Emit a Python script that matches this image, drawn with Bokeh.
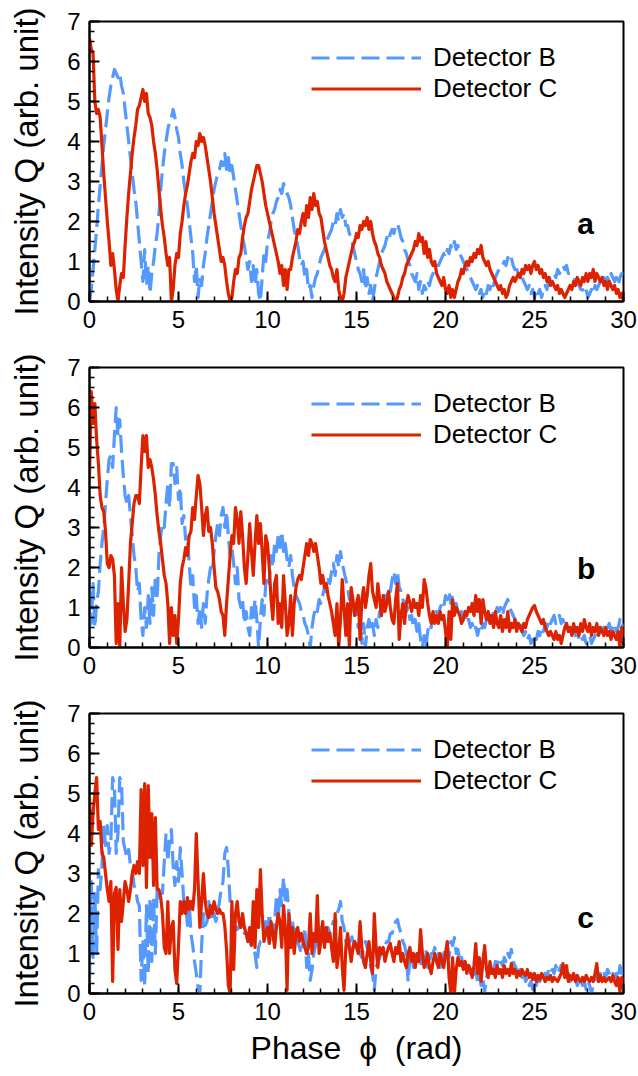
from bokeh.plotting import figure
from bokeh.layouts import column
from bokeh.models import Range1d, FixedTicker, Legend, LegendItem, Label
from bokeh.embed import file_html
from bokeh.resources import INLINE

FONT = "Liberation Sans"
BLUE = "#5599ff"
RED = "#dd2200"

# sampling positions of the phase axis (rad), 0.1 apart
phase = [round(0.1 * i, 1) for i in range(301)]

# ---------------- panel a ----------------
a_det_b = [
    0.0, 0.3, 0.8, 1.3, 1.8, 2.4, 2.9, 3.4, 3.9, 4.3,
    4.7, 5.1, 5.4, 5.6, 5.8, 5.7, 5.6, 5.7, 5.4, 5.2,
    4.8, 4.4, 4.0, 3.6, 3.2, 2.8, 2.5, 2.0, 1.5, 1.0,
    0.5, 1.3, 0.4, 0.9, 0.2, 0.7, 1.0, 1.4, 1.7, 2.2,
    2.8, 3.3, 3.7, 4.0, 4.3, 4.5, 4.6, 4.8, 4.6, 4.3,
    4.1, 3.7, 3.4, 3.0, 2.7, 2.4, 2.0, 1.6, 1.2, 0.5,
    0.9, 0.1, 0.6, 0.4, 0.9, 1.2, 1.6, 1.9, 2.2, 2.5,
    2.8, 3.0, 3.2, 3.3, 3.5, 3.4, 3.7, 3.3, 3.6, 3.2,
    3.4, 3.1, 2.8, 2.5, 2.2, 1.9, 1.6, 1.4, 1.1, 0.8,
    1.0, 0.5, 0.9, 0.4, 0.8, 0.2, 0.0, 0.6, 1.2, 1.0,
    1.5, 1.7, 2.0, 2.2, 2.3, 2.5, 2.6, 2.8, 2.7, 2.95,
    2.8, 2.7, 2.6, 2.4, 2.1, 1.8, 1.6, 1.4, 1.1, 0.9,
    1.0, 0.6, 0.8, 0.3, 0.4, 0.1, 0.4, 0.6, 0.7, 0.9,
    1.1, 1.2, 1.3, 1.5, 1.6, 1.7, 1.8, 2.0, 1.9, 2.2,
    2.0, 2.3, 2.1, 2.2, 1.9, 1.9, 1.7, 1.6, 1.4, 1.2,
    1.0, 0.8, 0.7, 0.5, 0.8, 0.3, 0.6, 0.2, 0.4, 0.0,
    0.3, 0.6, 0.8, 1.0, 1.2, 1.3, 1.4, 1.6, 1.5, 1.7,
    1.8, 1.7, 1.9, 1.95, 1.8, 1.6, 1.5, 1.3, 1.2, 1.0,
    0.9, 0.7, 0.6, 0.5, 0.7, 0.3, 0.5, 0.2, 0.4, 0.3,
    0.5, 0.4, 0.6, 0.7, 0.8, 0.9, 0.9, 1.0, 1.1, 1.2,
    1.1, 1.3, 1.2, 1.4, 1.3, 1.5, 1.3, 1.4, 1.2, 1.1,
    1.0, 0.9, 0.8, 0.7, 0.6, 0.5, 0.4, 0.3, 0.4, 0.2,
    0.3, 0.1, 0.3, 0.2, 0.4, 0.3, 0.5, 0.4, 0.6, 0.7,
    0.8, 0.9, 0.9, 1.0, 0.9, 1.1, 1.0, 1.1, 0.9, 0.8,
    0.8, 0.7, 0.7, 0.6, 0.5, 0.4, 0.3, 0.4, 0.2, 0.3,
    0.1, 0.3, 0.2, 0.3, 0.1, 0.3, 0.4, 0.3, 0.5, 0.6,
    0.6, 0.7, 0.6, 0.8, 0.7, 0.8, 0.9, 0.8, 0.9, 0.7,
    0.7, 0.6, 0.6, 0.5, 0.5, 0.4, 0.3, 0.3, 0.2, 0.3,
    0.1, 0.2, 0.3, 0.2, 0.4, 0.3, 0.4, 0.5, 0.4, 0.6,
    0.5, 0.6, 0.5, 0.7, 0.6, 0.5, 0.6, 0.4, 0.6, 0.7,
    0.7,
]
a_det_c = [
    6.6, 6.3, 6.2, 5.0, 4.7, 4.8, 4.6, 3.9, 3.2, 2.6,
    2.0, 1.5, 0.9, 1.2, 0.8, 0.3, 0.0, 0.4, 0.7, 0.6,
    1.4, 2.1, 2.7, 3.2, 3.7, 4.1, 4.4, 4.8, 4.9, 5.1,
    5.3, 5.0, 5.2, 4.7, 4.6, 4.4, 4.0, 3.7, 3.3, 2.8,
    2.3, 1.9, 1.6, 1.2, 0.9, 1.1, 0.0, 0.3, 0.9, 1.2,
    1.1, 1.7, 2.0, 2.4, 2.7, 2.9, 3.2, 3.5, 3.7, 3.6,
    4.0, 3.9, 4.2, 4.0, 4.1, 3.9, 3.6, 3.3, 3.0, 2.6,
    2.2, 1.9, 1.6, 1.3, 1.0, 1.1, 0.9, 0.5, 0.2, 0.0,
    0.1, 0.5, 0.8, 0.7, 1.1, 1.2, 1.6, 1.9, 2.1, 2.2,
    2.5, 2.8, 3.0, 3.2, 3.4, 3.4, 3.2, 3.0, 2.7, 2.4,
    2.2, 2.0, 1.8, 1.6, 1.4, 1.2, 1.0, 0.7, 0.9, 0.4,
    0.8, 0.3, 0.8, 0.8, 1.1, 1.3, 1.5, 1.8, 1.7, 2.0,
    2.2, 1.9, 2.4, 2.1, 2.6, 2.3, 2.7, 2.4, 2.5, 2.2,
    2.1, 1.8, 1.5, 1.3, 1.1, 0.9, 0.8, 0.6, 0.5, 0.8,
    0.3, 0.1, 0.0, 0.2, 0.6, 0.8, 1.0, 1.2, 1.4, 1.5,
    1.7, 1.6, 1.9, 1.8, 2.0, 1.9, 2.1, 1.8, 2.0, 1.7,
    1.5, 1.4, 1.2, 1.1, 0.9, 0.8, 0.7, 0.5, 0.4, 0.3,
    0.2, 0.1, 0.0, 0.1, 0.3, 0.4, 0.6, 0.7, 0.9, 1.0,
    1.1, 1.2, 1.3, 1.5, 1.4, 1.7, 1.5, 1.6, 1.2, 1.5,
    1.1, 1.3, 1.0, 0.9, 1.0, 0.7, 0.6, 0.5, 0.4, 0.6,
    0.3, 0.2, 0.4, 0.1, 0.3, 0.1, 0.3, 0.5, 0.6, 0.8,
    0.7, 0.9, 1.0, 0.9, 1.1, 1.0, 1.2, 1.1, 1.3, 1.2,
    1.4, 1.1, 1.0, 0.9, 1.0, 0.8, 0.7, 0.6, 0.5, 0.4,
    0.3, 0.4, 0.2, 0.3, 0.1, 0.2, 0.4, 0.5, 0.6, 0.5,
    0.6, 0.7, 0.6, 0.8, 0.7, 0.9, 0.8, 0.9, 0.7, 0.9,
    1.0, 0.8, 0.9, 0.7, 0.8, 0.6, 0.7, 0.5, 0.6, 0.4,
    0.5, 0.4, 0.3, 0.4, 0.2, 0.3, 0.2, 0.1, 0.2, 0.3,
    0.4, 0.3, 0.5, 0.4, 0.6, 0.5, 0.4, 0.6, 0.5, 0.7,
    0.5, 0.7, 0.6, 0.8, 0.5, 0.7, 0.6, 0.5, 0.6, 0.4,
    0.5, 0.3, 0.5, 0.4, 0.3, 0.4, 0.2, 0.3, 0.1, 0.2,
    0.0,
]

# ---------------- panel b ----------------
b_det_b = [
    1.5, 0.6, 1.6, 0.5, 1.1, 1.4, 2.1, 2.6, 3.0, 3.6,
    4.2, 4.7, 4.8, 4.5, 5.3, 6.0, 5.3, 5.7, 4.9, 4.3,
    3.8, 3.6, 3.8, 3.3, 2.8, 2.3, 2.0, 1.4, 1.6, 0.7,
    0.3, 1.0, 0.5, 1.3, 0.6, 1.5, 0.8, 1.8, 1.2, 2.3,
    2.8, 3.1, 3.0, 3.6, 4.1, 3.5, 4.6, 4.6, 4.1, 4.5,
    3.7, 4.0, 3.1, 3.3, 2.7, 2.8, 2.1, 1.5, 1.8, 1.0,
    1.3, 0.6, 1.0, 0.5, 1.1, 0.6, 1.3, 1.7, 2.0, 1.9,
    2.4, 2.8, 3.1, 2.8, 3.3, 3.5, 3.0, 3.4, 2.8, 2.3,
    2.5, 2.1, 1.6, 2.0, 1.2, 1.0, 1.2, 0.6, 0.9, 0.5,
    0.3, 1.0, 0.7, 1.2, 0.7, 0.0, 0.7, 1.2, 0.8, 1.6,
    1.8, 1.6, 2.3, 2.0, 2.6, 2.4, 2.8, 2.5, 2.9, 2.4,
    2.6, 2.2, 2.0, 2.3, 1.8, 1.5, 1.3, 1.2, 1.1, 0.9,
    0.8, 0.6, 0.5, 0.3, 0.0, 0.5, 0.8, 1.0, 0.9, 1.2,
    1.1, 1.3, 1.5, 1.4, 1.7, 1.6, 1.9, 2.1, 1.8, 2.3,
    2.0, 2.4, 2.1, 1.9, 1.7, 1.5, 1.2, 1.3, 1.0, 0.8,
    0.9, 0.5, 0.7, 0.1, 0.6, 0.0, 0.5, 0.7, 0.4, 0.6,
    0.3, 0.7, 0.5, 0.9, 0.8, 1.1, 1.3, 1.2, 1.5, 1.4,
    1.7, 1.9, 1.6, 1.9, 1.5, 1.4, 1.2, 1.1, 0.9, 1.0,
    0.7, 0.8, 0.5, 0.7, 0.4, 0.6, 0.2, 0.0, 0.3, 0.0,
    0.4, 0.6, 0.5, 0.8, 0.7, 0.9, 0.8, 1.0, 1.1, 1.0,
    1.3, 1.2, 1.4, 1.1, 1.3, 1.0, 1.1, 0.9, 0.8, 0.9,
    0.7, 0.8, 0.6, 0.7, 0.5, 0.6, 0.4, 0.5, 0.3, 0.5,
    0.4, 0.6, 0.5, 0.7, 0.6, 0.8, 0.7, 0.9, 0.8, 1.0,
    0.9, 1.0, 0.8, 1.0, 1.1, 1.2, 1.0, 0.9, 0.8, 0.7,
    0.6, 0.5, 0.6, 0.4, 0.3, 0.4, 0.2, 0.3, 0.1, 0.2,
    0.3, 0.2, 0.4, 0.3, 0.5, 0.4, 0.6, 0.5, 0.7, 0.6,
    0.7, 0.8, 0.6, 0.7, 0.8, 0.6, 0.7, 0.5, 0.6, 0.4,
    0.5, 0.3, 0.4, 0.3, 0.4, 0.2, 0.3, 0.2, 0.3, 0.1,
    0.2, 0.3, 0.1, 0.2, 0.3, 0.4, 0.3, 0.5, 0.4, 0.5,
    0.6, 0.5, 0.6, 0.4, 0.5, 0.6, 0.4, 0.5, 0.7, 0.5,
    0.6,
]
b_det_c = [
    4.3, 6.4, 5.6, 6.1, 5.2, 4.6, 3.8, 3.5, 3.4, 2.9,
    2.1, 2.0, 2.3, 2.2, 1.8, 0.1, 1.1, 0.0, 2.0, 1.1,
    0.4, 0.7, 1.6, 2.6, 3.1, 3.6, 3.8, 3.8, 3.6, 4.5,
    5.3, 4.9, 5.3, 4.5, 4.7, 4.5, 4.2, 3.8, 3.3, 2.9,
    2.6, 2.2, 1.8, 1.6, 1.1, 0.1, 1.0, 0.3, 0.8, 0.1,
    0.7, 1.6, 2.0, 2.2, 2.5, 2.3, 2.8, 2.9, 3.5, 3.2,
    3.8, 4.3, 4.1, 3.5, 2.8, 3.3, 3.5, 2.9, 3.0, 2.6,
    2.0, 1.5, 1.4, 1.2, 0.9, 0.8, 0.3, 1.1, 1.7, 2.3,
    2.8, 2.6, 3.5, 3.2, 2.6, 3.4, 2.8, 2.0, 1.6, 2.3,
    3.1, 2.4, 1.8, 2.6, 3.3, 2.6, 3.1, 2.4, 1.6, 2.8,
    2.6, 2.0, 1.2, 0.7, 1.6, 1.8, 0.6, 1.1, 0.5, 1.8,
    1.1, 0.3, 0.6, 1.3, 0.3, 1.1, 1.5, 1.7, 1.8, 1.7,
    2.0, 2.3, 2.6, 2.3, 2.7, 2.6, 2.4, 2.6, 2.3, 2.0,
    1.6, 1.8, 1.5, 1.6, 1.3, 1.1, 0.9, 0.6, 0.3, 1.1,
    0.0, 0.7, 1.7, 1.0, 0.3, 1.1, 0.0, 1.5, 1.2, 0.8,
    1.1, 1.3, 0.2, 1.2, 1.5, 1.0, 1.3, 1.8, 2.1, 1.4,
    1.2, 1.0, 1.6, 1.2, 0.8, 1.3, 0.9, 1.1, 1.4, 1.0,
    0.7, 0.6, 1.2, 1.6, 0.2, 0.8, 1.1, 0.6, 1.1, 1.3,
    1.1, 0.9, 1.2, 1.0, 1.1, 0.8, 1.3, 1.0, 1.7, 1.5,
    1.1, 0.8, 0.6, 0.9, 0.6, 0.8, 0.6, 0.9, 0.7, 0.8,
    0.4, 0.0, 0.9, 0.2, 1.2, 0.8, 1.0, 0.9, 0.8, 0.6,
    0.7, 0.9, 0.8, 1.0, 0.9, 1.1, 0.8, 1.3, 0.9, 1.2,
    0.6, 1.2, 0.9, 0.7, 0.9, 0.6, 0.8, 0.5, 0.9, 0.6,
    0.5, 0.8, 0.4, 0.7, 0.5, 0.9, 0.4, 0.6, 0.5, 0.7,
    0.4, 0.6, 0.5, 0.4, 0.6, 0.5, 0.7, 0.8, 0.9, 1.0,
    1.05, 0.9, 0.8, 0.7, 0.6, 0.7, 0.5, 0.4, 0.3, 0.4,
    0.3, 0.2, 0.4, 0.2, 0.3, 0.1, 0.3, 0.5, 0.6, 0.4,
    0.5, 0.3, 0.6, 0.4, 0.5, 0.3, 0.6, 0.4, 0.7, 0.5,
    0.4, 0.6, 0.3, 0.5, 0.4, 0.6, 0.3, 0.5, 0.4, 0.3,
    0.5, 0.3, 0.4, 0.2, 0.4, 0.3, 0.2, 0.4, 0.0, 0.5,
    0.3,
]

# ---------------- panel c ----------------
c_det_b = [
    0.3, 2.8, 0.9, 2.5, 1.0, 3.1, 2.6, 3.2, 4.2, 3.7,
    4.2, 3.5, 3.8, 5.4, 5.2, 3.5, 4.0, 5.4, 5.3, 3.8,
    3.6, 3.4, 3.6, 3.2, 3.1, 2.7, 2.6, 2.3, 2.2, 0.33,
    1.3, 0.17, 2.2, 0.5, 2.4, 0.8, 2.4, 1.0, 2.6, 2.4,
    2.5, 2.5, 3.3, 4.0, 3.3, 3.8, 4.1, 3.2, 2.7, 3.3,
    2.8, 3.65, 3.0, 2.3, 2.3, 1.7, 2.3, 1.5, 1.2, 0.8,
    0.5, 0.17, 0.0, 1.2, 2.0, 1.7, 1.8, 2.3, 2.0, 1.8,
    2.0, 1.8, 2.0, 2.3, 2.6, 2.8, 3.5, 3.65, 3.1, 2.3,
    2.0, 1.7, 1.8, 1.6, 1.65, 1.8, 1.8, 1.5, 1.5, 1.3,
    1.3, 1.2, 1.15, 1.0, 0.65, 1.15, 1.3, 1.3, 1.5, 1.8,
    1.5, 2.0, 1.65, 1.3, 1.8, 2.4, 1.8, 2.6, 2.2, 2.9,
    2.3, 2.6, 2.0, 1.65, 1.8, 1.5, 1.65, 1.3, 1.15, 1.0,
    1.3, 1.65, 0.65, 1.0, 0.33, 0.6, 1.0, 1.2, 1.3, 1.5,
    1.65, 1.5, 1.3, 1.5, 1.65, 1.5, 1.65, 1.8, 1.65, 2.0,
    2.1, 2.3, 1.8, 1.65, 1.3, 1.15, 1.3, 1.5, 1.3, 1.15,
    1.3, 1.15, 1.0, 0.9, 1.15, 1.3, 1.15, 1.0, 0.65, 0.5,
    0.08, 0.65, 0.8, 0.9, 1.0, 1.15, 1.2, 1.3, 1.3, 1.5,
    1.5, 1.65, 1.8, 1.85, 1.65, 1.5, 1.3, 1.2, 1.0, 0.3,
    0.9, 1.0, 0.65, 1.0, 0.8, 0.9, 0.65, 1.0, 0.9, 1.1,
    0.65, 0.8, 1.0, 1.0, 1.15, 0.8, 1.0, 0.65, 0.8, 1.0,
    1.1, 1.2, 0.9, 1.3, 1.2, 1.4, 1.0, 1.1, 0.8, 0.9,
    0.7, 0.8, 0.6, 0.7, 0.5, 0.6, 0.4, 0.6, 0.3, 0.5,
    0.2, 0.4, 0.05, 0.4, 0.6, 0.5, 0.7, 0.6, 0.8, 0.7,
    0.9, 0.8, 0.7, 0.9, 0.8, 1.0, 0.9, 1.1, 0.8, 0.7,
    0.6, 0.5, 0.6, 0.4, 0.5, 0.3, 0.4, 0.2, 0.3, 0.1,
    0.3, 0.2, 0.4, 0.3, 0.5, 0.4, 0.5, 0.4, 0.6, 0.5,
    0.6, 0.5, 0.7, 0.5, 0.6, 0.7, 0.5, 0.6, 0.4, 0.5,
    0.3, 0.4, 0.3, 0.4, 0.2, 0.3, 0.4, 0.2, 0.3, 0.1,
    0.3, 0.2, 0.0, 0.2, 0.3, 0.4, 0.3, 0.5, 0.4, 0.5,
    0.4, 0.6, 0.5, 0.4, 0.5, 0.4, 0.5, 0.3, 0.7, 0.5,
    0.6,
]
c_det_c = [
    4.9, 3.7, 4.5, 5.0, 5.4, 4.1, 4.3, 3.5, 3.4, 3.0,
    2.6, 2.3, 2.8, 0.3, 2.5, 2.65, 1.1, 2.6, 1.8, 2.3,
    2.8, 2.6, 2.3, 2.6, 3.0, 3.2, 3.0, 3.3, 3.0, 5.1,
    3.2, 5.25, 2.65, 5.2, 3.4, 4.5, 2.7, 4.4, 2.6, 2.6,
    2.4, 2.0, 1.15, 1.0, 2.3, 1.0, 1.65, 1.8, 0.6, 0.25,
    1.2, 2.3, 2.0, 2.3, 2.0, 2.4, 2.1, 2.3, 2.1, 2.6,
    4.0, 2.8, 1.65, 2.3, 3.0, 2.3, 2.0, 1.9, 2.2, 2.0,
    2.3, 2.1, 2.0, 2.1, 2.0, 2.0, 1.7, 1.1, 0.2, 0.0,
    2.3, 0.6, 2.0, 2.3, 1.8, 1.65, 2.0, 1.65, 1.5, 1.3,
    1.65, 1.2, 2.3, 1.15, 2.6, 1.65, 3.1, 2.0, 1.3, 1.5,
    1.65, 1.25, 1.8, 1.5, 1.15, 1.65, 2.0, 1.8, 1.15, 2.2,
    1.65, 0.08, 2.0, 1.15, 1.65, 1.0, 1.5, 1.65, 1.3, 1.5,
    1.3, 1.15, 1.0, 1.15, 2.0, 1.0, 1.5, 1.3, 2.45, 1.0,
    1.3, 1.8, 1.15, 1.65, 1.3, 1.5, 1.15, 0.8, 2.0, 0.65,
    1.0, 1.65, 0.65, 0.08, 1.15, 1.5, 1.15, 0.8, 1.15, 1.3,
    1.15, 1.0, 1.8, 1.15, 0.8, 0.65, 1.0, 1.3, 0.8, 0.5,
    2.0, 1.15, 0.65, 1.15, 1.0, 1.15, 0.8, 1.0, 1.15, 1.25,
    1.0, 0.8, 1.15, 1.0, 1.3, 0.8, 1.0, 0.8, 0.65, 1.0,
    1.15, 0.8, 1.0, 0.65, 1.0, 0.8, 1.6, 1.0, 0.65, 0.8,
    1.0, 0.65, 0.5, 0.8, 1.0, 0.8, 0.65, 1.0, 0.8, 0.65,
    1.0, 1.3, 0.4, 0.0, 0.9, 0.0, 0.6, 0.9, 0.7, 0.8,
    0.6, 0.8, 0.5, 0.7, 0.6, 0.4, 0.7, 1.25, 0.5, 0.9,
    0.3, 0.8, 1.2, 0.6, 0.4, 0.8, 0.5, 0.6, 0.4, 0.7,
    0.5, 0.6, 0.4, 0.7, 0.5, 0.6, 0.45, 0.75, 0.5, 0.6,
    0.4, 0.55, 0.45, 0.6, 0.5, 0.45, 0.6, 0.4, 0.5, 0.35,
    0.5, 0.3, 0.45, 0.35, 0.5, 0.4, 0.3, 0.4, 0.35, 0.45,
    0.3, 0.4, 0.35, 0.3, 0.4, 0.5, 0.75, 0.4, 0.7, 0.3,
    0.45, 0.35, 0.5, 0.3, 0.45, 0.35, 0.3, 0.4, 0.3, 0.45,
    0.35, 0.3, 0.4, 0.3, 0.5, 0.75, 0.3, 0.45, 0.3, 0.4,
    0.3, 0.35, 0.4, 0.3, 0.45, 0.3, 0.2, 0.4, 0.05, 0.4,
    0.3,
]

x_ticks = [0, 5, 10, 15, 20, 25, 30]
x_minor = list(range(31))
y_ticks = [0, 1, 2, 3, 4, 5, 6, 7]
y_minor = [0.25 * i for i in range(29)]

panel_letters = ["a", "b", "c"]
letter_pos = [(27.87, 1.95), (27.9, 1.97), (27.87, 1.9)]

for s in (a_det_b, a_det_c, b_det_b, b_det_c, c_det_b, c_det_c):
    assert len(s) == len(phase), len(s)


def make_panel(det_b, det_c, letter, lpos, height, border_top, border_bottom,
               xlabel=None):
    p = figure(width=638, height=height,
               x_range=Range1d(0, 30), y_range=Range1d(0, 7),
               output_backend="svg", toolbar_location=None,
               min_border_left=89, min_border_right=15,
               min_border_top=border_top, min_border_bottom=border_bottom)
    p.grid.visible = False
    p.outline_line_color = "black"
    p.outline_line_width = 2
    p.outline_line_alpha = 1
    p.background_fill_color = "white"
    p.border_fill_color = "white"

    rb = p.line(phase, det_b, line_color=BLUE, line_width=3.2,
                line_dash="18 7", line_join="round")
    rc = p.line(phase, det_c, line_color=RED, line_width=3.2,
                line_join="round")

    for ax in (p.xaxis[0], p.yaxis[0]):
        ax.axis_line_width = 2
        ax.axis_line_color = "black"
        ax.major_tick_in = 10
        ax.major_tick_out = 0
        ax.major_tick_line_width = 2
        ax.minor_tick_in = 5
        ax.minor_tick_out = 0
        ax.minor_tick_line_width = 1.5
        ax.major_label_text_font = FONT
        ax.major_label_text_font_size = "24px"
        ax.major_label_text_color = "black"
        ax.major_label_standoff = 9
        ax.axis_label_text_font = FONT
        ax.axis_label_text_font_style = "normal"
        ax.axis_label_text_color = "black"

    p.xaxis.ticker = FixedTicker(ticks=x_ticks, minor_ticks=x_minor)
    p.yaxis.ticker = FixedTicker(ticks=y_ticks, minor_ticks=y_minor)

    p.yaxis.axis_label = "Intensity Q (arb. unit)"
    p.yaxis.axis_label_text_font_size = "33px"
    p.yaxis.axis_label_standoff = 19

    if xlabel:
        p.xaxis.axis_label = xlabel
        p.xaxis.axis_label_text_font_size = "32px"
        p.xaxis.axis_label_standoff = 7

    legend = Legend(
        items=[LegendItem(label="Detector B", renderers=[rb]),
               LegendItem(label="Detector C", renderers=[rc])],
        location=(222, 197),
        glyph_width=110, glyph_height=27, label_height=27,
        label_text_font=FONT, label_text_font_size="26px",
        label_text_color="black",
        label_standoff=12, spacing=-6, padding=0, margin=0,
        border_line_alpha=0, background_fill_alpha=0,
    )
    p.add_layout(legend)

    p.add_layout(Label(x=lpos[0], y=lpos[1], text=letter,
                       text_font=FONT, text_font_style="bold",
                       text_font_size="30px", text_align="center",
                       text_baseline="alphabetic", text_color="black"))
    return p


pa = make_panel(a_det_b, a_det_c, panel_letters[0], letter_pos[0], 354, 21, 53)
pb = make_panel(b_det_b, b_det_c, panel_letters[1], letter_pos[1], 346, 13, 53)
pc = make_panel(c_det_b, c_det_c, panel_letters[2], letter_pos[2], 375, 13, 82,
                xlabel="Phase\u00a0\u00a0\u03d5\u00a0\u00a0(rad)")

layout = column(pa, pb, pc, spacing=0)

with open("out.html", "w") as f:
    f.write(file_html(layout, INLINE))
